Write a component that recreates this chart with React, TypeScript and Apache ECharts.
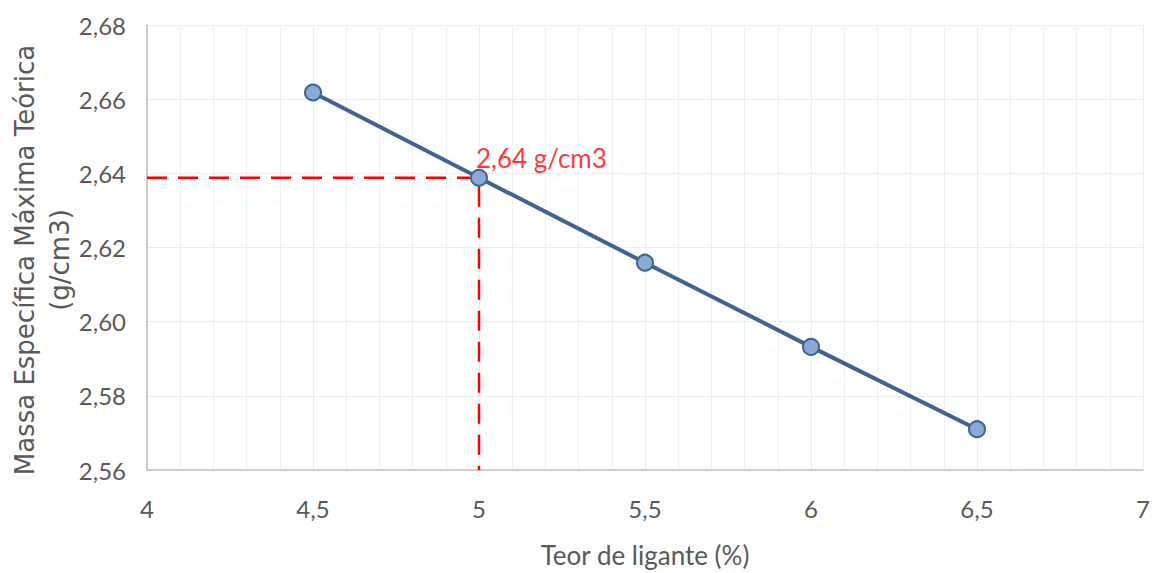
import React, { useEffect, useRef } from "react";
import * as echarts from "echarts";

const teor = [4.5, 5, 5.5, 6, 6.5];
const massa = [2.6618, 2.6388, 2.6159, 2.5932, 2.571];
const refX = 5;
const refY = 2.6388;
const refLabel = "2,64 g/cm3";
const xTitle = "Teor de ligante (%)";
const yTitle = "Massa Específica Máxima Teórica\n(g/cm3)";

export default function App() {
  const ref = useRef<HTMLDivElement>(null);
  useEffect(() => {
    const chart = echarts.init(ref.current!, undefined, { renderer: "svg" });
    const fmt = (v: number, d: number) => v.toFixed(d).replace(".", ",");
    chart.setOption({
      animation: false,
      backgroundColor: "#ffffff",
      grid: { left: 147, right: 14, top: 25, bottom: 102 },
      xAxis: {
        type: "value",
        min: 4,
        max: 7,
        interval: 0.5,
        axisLine: { show: true, lineStyle: { color: "#bfbfbf", width: 1.5 } },
        axisTick: { show: false },
        minorTick: { show: false, splitNumber: 5 },
        splitLine: { show: true, lineStyle: { color: "#e9ecf3", width: 1 } },
        minorSplitLine: { show: true, lineStyle: { color: "#eef0f5", width: 1 } },
        axisLabel: {
          color: "#595959",
          fontFamily: "Lato",
          fontSize: 24,
          margin: 26,
          formatter: (v: number) => (Number.isInteger(v) ? String(v) : fmt(v, 1)),
        },
        name: xTitle,
        nameLocation: "middle",
        nameGap: 72,
        nameTextStyle: { color: "#595959", fontFamily: "Lato", fontSize: 26 },
      },
      yAxis: {
        type: "value",
        min: 2.56,
        max: 2.68,
        interval: 0.02,
        axisLine: { show: true, lineStyle: { color: "#bfbfbf", width: 1.5 } },
        axisTick: { show: false },
        splitLine: { show: true, lineStyle: { color: "#e9ecf3", width: 1 } },
        axisLabel: {
          color: "#595959",
          fontFamily: "Lato",
          fontSize: 24,
          margin: 21,
          formatter: (v: number) => fmt(v, 2),
        },
      },
      graphic: [
        {
          type: "text",
          x: 42,
          y: 260,
          rotation: Math.PI / 2,
          style: {
            text: yTitle,
            fill: "#595959",
            fontFamily: "DejaVu Sans",
            fontSize: 26,
            lineHeight: 35,
            align: "center",
            verticalAlign: "middle",
          },
        },
      ],
      series: [
        {
          type: "line",
          data: [
            [4, refY],
            [refX, refY],
            [refX, 2.56],
          ],
          symbol: "none",
          lineStyle: { color: "#ff0000", width: 2.5, type: [20, 11] },
          z: 1,
        },
        {
          type: "line",
          data: teor.map((x, i) => [x, massa[i]]),
          symbol: "circle",
          symbolSize: 16,
          lineStyle: { color: "#3f6394", width: 4 },
          itemStyle: { color: "#8aaad4", borderColor: "#3f6394", borderWidth: 2 },
          z: 3,
        },
        {
          type: "scatter",
          data: [[refX, refY]],
          symbolSize: 0,
          label: {
            show: true,
            formatter: refLabel,
            position: "right",
            offset: [-8, -20],
            color: "#ff0000",
            fontFamily: "Lato",
            fontSize: 26,
          },
          z: 4,
        },
      ],
    });
    return () => chart.dispose();
  }, []);
  return (
    <div
      ref={ref}
      style={{ position: "fixed", left: 0, top: 0, width: 1157, height: 573 }}
    />
  );
}
